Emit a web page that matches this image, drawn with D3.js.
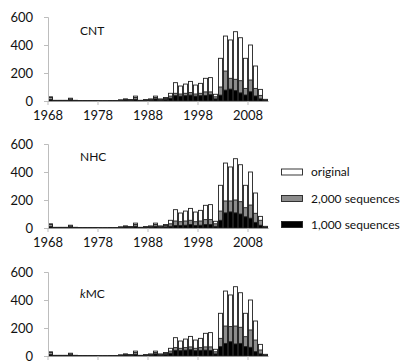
<!DOCTYPE html>
<html><head><meta charset="utf-8">
<script src="https://cdn.jsdelivr.net/npm/d3@7"></script>
<style>
body{margin:0;background:#fff;}
svg{display:block;font-family:Lato,"Open Sans",sans-serif;}
</style></head>
<body>
<svg id="chart" width="406" height="361"></svg>
<script>
const years = d3.range(1968, 2012);
const tickYears = [1968, 1978, 1988, 1998, 2008];
const yTicks = [0, 200, 400, 600];
const panelNames = ["CNT", "NHC", "kMC"];
const seriesNames = ["original", "2,000 sequences", "1,000 sequences"];

const original = [30,5,5,5,20,5,3,3,3,3,2,2,3,3,8,15,10,35,5,10,15,35,15,25,55,
  131,107,121,140,114,126,162,167,48,305,464,436,495,452,305,400,250,83,12];

const cntSeq2000 = [25,3,3,3,15,3,2,2,2,2,1,1,2,2,6,12,8,25,4,8,10,25,10,18,35,
  55,50,55,60,50,55,65,65,30,100,214,162,155,145,90,150,90,40,8];
const cntSeq1000 = [10,2,2,2,8,2,1,1,1,1,1,1,1,1,4,8,5,12,2,4,6,15,5,10,20,
  38,35,38,42,35,38,40,45,15,42,78,85,74,58,43,66,36,15,4];

const nhcSeq2000 = [25,3,3,3,15,3,2,2,2,2,1,1,2,2,6,12,8,25,4,8,10,25,10,18,30,
  50,45,50,55,45,50,60,60,30,121,193,193,200,188,145,164,105,55,8];
const nhcSeq1000 = [10,2,2,2,8,2,1,1,1,1,1,1,1,1,4,8,5,12,2,4,6,12,5,8,12,
  18,18,20,25,18,20,25,25,12,55,108,115,108,100,80,70,40,20,4];

const kmcSeq2000 = [25,3,3,3,15,3,2,2,2,2,1,1,2,2,6,12,8,25,4,8,10,25,10,18,35,
  60,55,60,65,55,60,65,65,30,126,214,210,214,205,138,186,114,43,8];
const kmcSeq1000 = [10,2,2,2,8,2,1,1,1,1,1,1,1,1,4,8,5,12,2,4,6,15,5,10,20,
  40,38,42,45,38,40,42,40,15,67,90,102,86,90,67,62,31,15,4];

const panels = [
  {name: panelNames[0], s2000: cntSeq2000, s1000: cntSeq1000, y0: 101, labelY: 35, xLabels: true},
  {name: panelNames[1], s2000: nhcSeq2000, s1000: nhcSeq1000, y0: 228, labelY: 161, xLabels: true},
  {name: panelNames[2], s2000: kmcSeq2000, s1000: kmcSeq1000, y0: 356, labelY: 298, xLabels: false}
];

const svg = d3.select("#chart");
const x = d3.scaleBand().domain(years).range([48, 268]).padding(0);
const fills = ["#ffffff", "#8c8c8c", "#000000"];

panels.forEach(p => {
  const y = d3.scaleLinear().domain([0, 600]).range([p.y0, p.y0 - 84]);
  const g = svg.append("g");

  const seriesData = [original, p.s2000, p.s1000];
  seriesData.forEach((arr, si) => {
    g.append("g").selectAll("rect").data(years).join("rect")
      .attr("x", d => x(d) + 0.5)
      .attr("width", x.bandwidth() - 1)
      .attr("y", (d, i) => y(arr[i]))
      .attr("height", (d, i) => y(0) - y(arr[i]))
      .attr("fill", fills[si])
      .attr("stroke", "#222")
      .attr("stroke-width", 0.9);
  });

  // y axis
  const ya = g.append("g").attr("transform", "translate(48,0)")
    .call(d3.axisLeft(y).tickValues(yTicks).tickSize(4).tickPadding(11));
  ya.select(".domain").attr("stroke", "#bdbdbd");
  ya.selectAll(".tick line").attr("stroke", "#bdbdbd");
  ya.selectAll("text").attr("font-size", 13).attr("fill", "#111").attr("font-family", "Lato, sans-serif");

  // x axis
  const xa = g.append("g").attr("transform", `translate(0,${p.y0})`)
    .call(d3.axisBottom(x).tickValues(tickYears).tickSize(4).tickPadding(6).tickSizeOuter(0));
  xa.select(".domain").attr("stroke", "#9a9a9a");
  xa.selectAll(".tick").attr("transform", d => `translate(${x(d)},0)`);
  xa.selectAll(".tick line").attr("stroke", "#bdbdbd");
  if (p.xLabels) {
    xa.selectAll("text").attr("font-size", 13).attr("fill", "#111").attr("font-family", "Lato, sans-serif");
  } else {
    xa.selectAll("text").remove();
  }

  // panel label
  const t = g.append("text").attr("x", 80).attr("y", p.labelY)
    .attr("font-size", 12).attr("fill", "#111");
  if (p.name === "kMC") {
    t.append("tspan").attr("font-style", "italic").text("k");
    t.append("tspan").text("MC");
  } else {
    t.text(p.name);
  }
});

// legend
const legend = svg.append("g");
const legY = [172, 198.5, 224.5];
seriesNames.forEach((n, i) => {
  legend.append("rect").attr("x", 281.5).attr("y", legY[i] - 3).attr("width", 21).attr("height", 6)
    .attr("fill", fills[i]).attr("stroke", "#222").attr("stroke-width", 0.9);
  legend.append("text").attr("x", 311).attr("y", legY[i] + 4)
    .attr("font-size", 12).attr("fill", "#111").text(n);
});
</script>
</body></html>
